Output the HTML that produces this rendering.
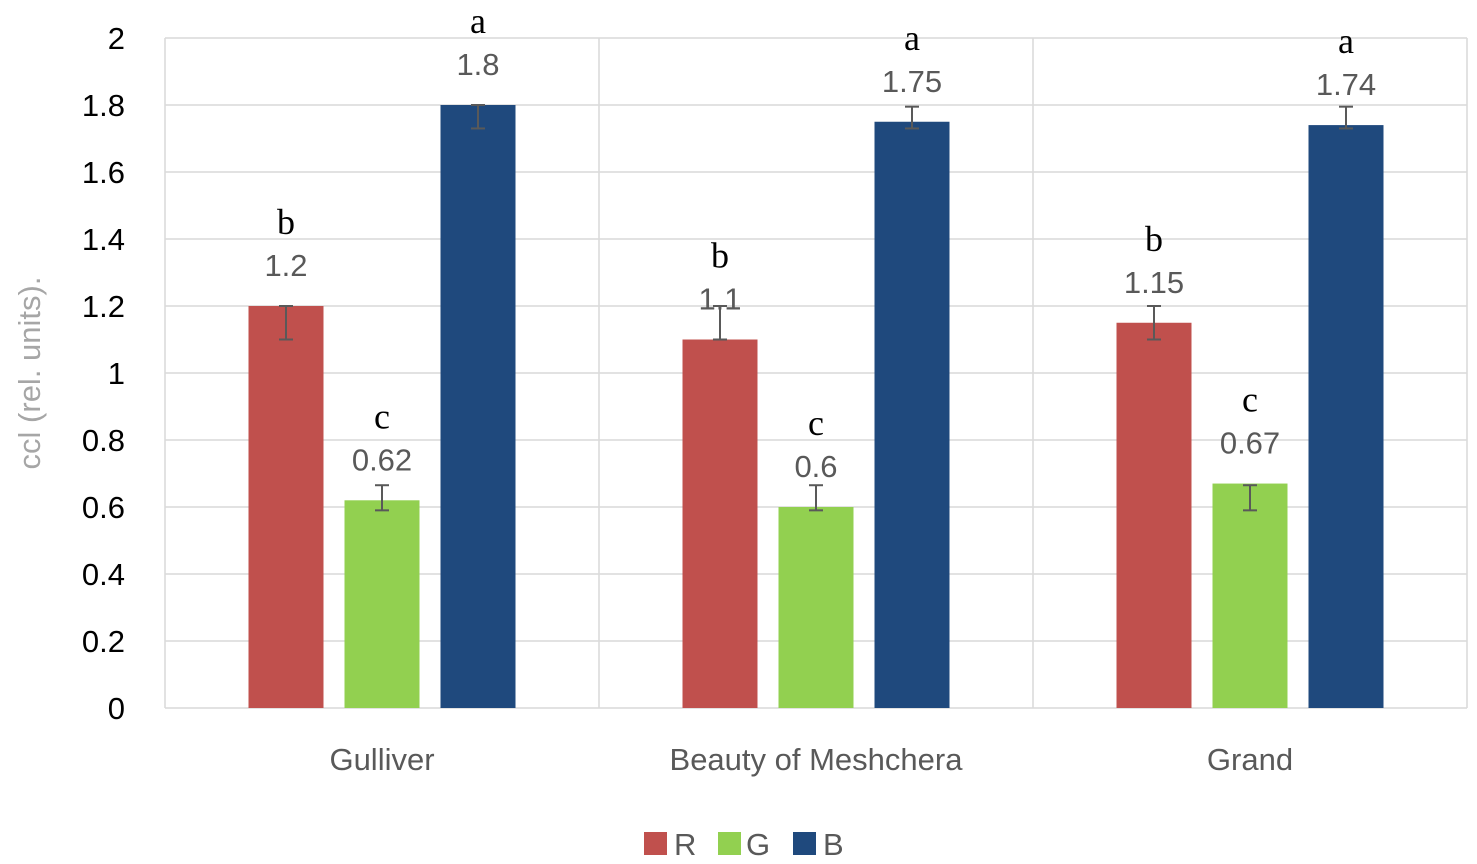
<!DOCTYPE html>
<html><head><meta charset="utf-8"><style>
body{margin:0;background:#fff;}
svg{display:block;font-family:"Liberation Sans",sans-serif;}
</style></head><body>
<svg id="chart" width="1477" height="864" viewBox="0 0 1477 864">
<g id="grid"></g>
<g id="bars"></g>
<g id="yticks"></g>
<text transform="translate(40,373) rotate(-90)" text-anchor="middle" font-size="31" fill="#a6a6a6">ccl (rel. units).</text>
<g>
<g><rect x="644" y="832" width="23" height="23" fill="#c0504d"/><text x="674" y="855" font-size="31" fill="#595959">R</text></g>
<g><rect x="718" y="832" width="23" height="23" fill="#92d050"/><text x="746" y="855" font-size="31" fill="#595959">G</text></g>
<g><rect x="793" y="832" width="23" height="23" fill="#1f497d"/><text x="823" y="855" font-size="31" fill="#595959">B</text></g>
</g>
</svg>
<script>
const categories = ["Gulliver", "Beauty of Meshchera", "Grand"];
const seriesNames = ["R", "G", "B"];
const valuesR = [1.2, 1.1, 1.15];
const valuesG = [0.62, 0.6, 0.67];
const valuesB = [1.8, 1.75, 1.74];
const errHighR = [1.2, 1.2, 1.2];
const errLowR = [1.1, 1.1, 1.1];
const errHighG = [0.665, 0.665, 0.665];
const errLowG = [0.59, 0.59, 0.59];
const errHighB = [1.8, 1.795, 1.795];
const errLowB = [1.73, 1.73, 1.73];
const lettersR = ["b", "b", "b"];
const lettersG = ["c", "c", "c"];
const lettersB = ["a", "a", "a"];
const yTicks = [0, 0.2, 0.4, 0.6, 0.8, 1, 1.2, 1.4, 1.6, 1.8, 2];
const yTickLabels = ["0", "0.2", "0.4", "0.6", "0.8", "1", "1.2", "1.4", "1.6", "1.8", "2"];

const NS = "http://www.w3.org/2000/svg";
const L = 165, R = 1467, T = 38, B = 708, yMax = 2;
const y = v => B - (v / yMax) * (B - T);
const catW = (R - L) / categories.length;
const barW = 75, barStep = 96;
const x = (ci, si) => L + catW * ci + catW / 2 - barW / 2 + (si - 1) * barStep;
function el(tag, attrs, parent) {
  const e = document.createElementNS(NS, tag);
  for (const k in attrs) e.setAttribute(k, attrs[k]);
  parent.appendChild(e); return e;
}
const grid = document.getElementById('grid'), bars = document.getElementById('bars'), yt = document.getElementById('yticks');
yTicks.forEach((t, i) => {
  const ln = el('line', {x1: L, x2: R, y1: y(t), y2: y(t), stroke: '#d9d9d9', 'stroke-width': 1.5}, grid);
  
  
  const tx = el('text', {x: 125, y: y(t) + 11, 'text-anchor': 'end', 'font-size': 31, fill: '#000'}, yt);
  tx.textContent = yTickLabels[i];
  
  
});
for (let c = 0; c <= categories.length; c++) {
  const ln = el('line', {x1: L + catW * c, x2: L + catW * c, y1: T, y2: B, stroke: '#d9d9d9', 'stroke-width': 1.5}, grid);
  
  
}
const series = [
  {v: valuesR, hi: errHighR, lo: errLowR, let: lettersR, col: '#c0504d'},
  {v: valuesG, hi: errHighG, lo: errLowG, let: lettersG, col: '#92d050'},
  {v: valuesB, hi: errHighB, lo: errLowB, let: lettersB, col: '#1f497d'}
];
categories.forEach((cat, ci) => {
  const lab = el('text', {x: L + catW * ci + catW / 2, y: 770, 'text-anchor': 'middle', 'font-size': 31, fill: '#595959'}, bars);
  lab.textContent = cat;
  
  
  series.forEach((s, si) => {
    const bx = x(ci, si), v = s.v[ci];
    const r = el('rect', {x: bx, y: y(v), width: barW, height: B - y(v), fill: s.col}, bars);
    
    
    const cx = bx + barW / 2;
    const eg = el('g', {stroke: '#595959', 'stroke-width': 2}, bars);
    
    
    el('line', {x1: cx, x2: cx, y1: y(s.hi[ci]), y2: y(s.lo[ci])}, eg);
    el('line', {x1: cx - 7, x2: cx + 7, y1: y(s.hi[ci]), y2: y(s.hi[ci])}, eg);
    el('line', {x1: cx - 7, x2: cx + 7, y1: y(s.lo[ci]), y2: y(s.lo[ci])}, eg);
    const top = Math.min(y(v), y(s.hi[ci]));
    const vl = el('text', {x: cx, y: y(v) - 30, 'text-anchor': 'middle', 'font-size': 31, fill: '#595959'}, bars);
    vl.textContent = String(v);
    
    
    const lt = el('text', {x: cx, y: y(v) - 72, 'text-anchor': 'middle', 'font-size': 36, fill: '#000', 'font-family': 'Liberation Serif, serif'}, bars);
    lt.textContent = s.let[ci];
    
    
  });
});
</script>
</body></html>
